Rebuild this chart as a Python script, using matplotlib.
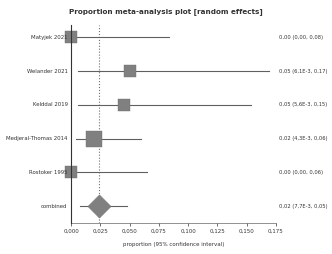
import matplotlib
matplotlib.use("Agg")
from matplotlib import pyplot as plt
from matplotlib.ticker import FuncFormatter

studies = ["Matyjek 2021", "Welander 2021", "Kelddal 2019",
           "Medjeral-Thomas 2014", "Rostoker 1995", "combined"]
est = [0.0, 0.050, 0.045, 0.020, 0.0, 0.024]
lo = [0.0, 0.0061, 0.0056, 0.0043, 0.0, 0.0077]
hi = [0.084, 0.169, 0.154, 0.060, 0.065, 0.048]
weights = [75, 75, 75, 145, 85]
right_text = ["0,00 (0,00, 0,08)", "0,05 (6,1E-3, 0,17)", "0,05 (5,6E-3, 0,15)",
              "0,02 (4,3E-3, 0,06)", "0,00 (0,00, 0,06)", "0,02 (7,7E-3, 0,05)"]
xticks = [0, 0.025, 0.05, 0.075, 0.1, 0.125, 0.15, 0.175]

fig = plt.figure(figsize=(3.32, 2.54), dpi=100)
ax = fig.add_axes([0.214, 0.122, 0.617, 0.778])

n = len(studies)
ypos = [n - 1 - i for i in range(n)]

for i in range(n):
    ax.plot([lo[i], hi[i]], [ypos[i], ypos[i]], color="#606060", lw=0.8, zorder=2)
for i in range(n - 1):
    ax.scatter(est[i], ypos[i], s=weights[i], marker="s", color="#808080",
               edgecolor="#707070", lw=0.3, zorder=3, clip_on=False)
ax.scatter(est[-1], ypos[-1], s=140, marker="D", color="#808080",
           edgecolor="#707070", lw=0.3, zorder=3, clip_on=False)
ax.axvline(est[-1], color="#707070", lw=0.8, ls=":", zorder=1)

for i in range(n):
    ax.text(-0.003, ypos[i], studies[i], ha="right", va="center", fontsize=3.9,
            color="#333333")
    ax.text(0.178, ypos[i], right_text[i], ha="left", va="center", fontsize=3.7,
            color="#333333")

ax.set_xlim(0, 0.175)
ax.set_ylim(-0.5, 5.35)
ax.set_xticks(xticks)
ax.xaxis.set_major_formatter(FuncFormatter(lambda v, p: ("%.3f" % v).replace(".", ",")))
ax.set_yticks([])
ax.tick_params(axis="x", labelsize=4.0, length=2, width=0.5, colors="#333333", pad=2)
for s in ["top", "right"]:
    ax.spines[s].set_visible(False)
ax.spines["left"].set_color("#333333")
ax.spines["bottom"].set_color("#666666")
ax.spines["left"].set_linewidth(0.8)
ax.spines["bottom"].set_linewidth(0.5)
ax.spines["left"].set_zorder(4)

ax.set_xlabel("proportion (95% confidence interval)", fontsize=4.0, color="#333333",
              labelpad=6)
fig.text(0.5, 0.955, "Proportion meta-analysis plot [random effects]", ha="center",
         va="center", fontsize=5.2, fontweight="bold", color="#333333")

fig.savefig("out.png", dpi=100)
